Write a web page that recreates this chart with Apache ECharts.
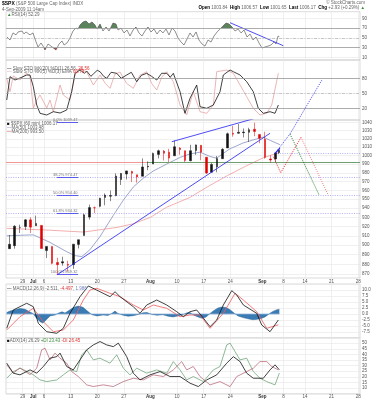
<!DOCTYPE html>
<html>
<head>
<meta charset="utf-8">
<script src="https://cdn.jsdelivr.net/npm/echarts@6/dist/echarts.min.js"></script>
<style>
html, body { margin: 0; padding: 0; background: #fff; }
#main { width: 377px; height: 400px; }
</style>
</head>
<body>
<div id="main"></div>
<script>
// x = trading-day index, 0 = 29 Jun 2009 (3 Jul and 7 Sep skipped)
const dayTicks = [0, 2, 4, 9, 14, 19, 24, 29, 34, 39, 45, 49, 53, 58, 63]
const dayLabels = ['29', 'Jul', '6', '13', '20', '27', 'Aug', '10', '17', '24', 'Sep', '8', '14', '21', '28']
const priceTicks = [870, 880, 890, 900, 910, 920, 930, 940, 950, 960, 970, 980, 990, 1000, 1010, 1020, 1030, 1040]
const rsiTicks = [10, 30, 50, 70, 90]
const stoTicks = [20, 50, 80]

// [day, open, close, low, high]
const spxBars = [
  [-2.5, 896.3, 900.9, 896.3, 910.9], [-1.5, 899.5, 920.3, 896.3, 921.4], [-0.5, 918.8, 918.9, 913.0, 922.0],
  [0.5, 919.9, 927.2, 916.2, 928.0], [1.5, 927.2, 919.3, 912.9, 930.0], [2.5, 920.8, 923.3, 920.8, 931.9],
  [3.5, 921.2, 896.4, 896.4, 921.2], [4.5, 894.3, 898.7, 886.4, 898.7], [5.5, 898.6, 881.0, 879.9, 898.6],
  [6.5, 881.9, 879.6, 869.3, 886.8], [7.5, 881.3, 882.7, 878.5, 887.9], [8.5, 880.0, 879.1, 872.8, 883.6],
  [9.5, 879.6, 901.1, 875.3, 901.1], [10.5, 900.8, 905.8, 896.5, 905.8], [11.5, 910.2, 932.7, 910.2, 934.0],
  [12.5, 930.2, 940.7, 927.5, 944.0], [13.5, 940.6, 940.4, 934.7, 941.9], [14.5, 942.1, 951.1, 941.0, 951.6],
  [15.5, 952.0, 954.6, 943.2, 956.5], [16.5, 953.4, 954.1, 947.8, 959.8], [17.5, 954.1, 976.3, 953.3, 979.4],
  [18.5, 972.2, 979.3, 966.0, 979.8], [19.5, 978.6, 982.2, 972.3, 982.5], [20.5, 981.5, 979.6, 969.4, 982.4],
  [21.5, 977.7, 975.2, 968.7, 977.8], [22.5, 976.0, 986.8, 976.0, 996.7], [23.5, 986.8, 987.5, 982.9, 993.2],
  [24.5, 990.2, 1002.6, 990.2, 1003.6], [25.5, 1001.4, 1005.7, 996.7, 1007.1], [26.5, 1005.4, 1002.7, 994.3, 1006.6],
  [27.5, 1004.1, 997.1, 992.5, 1008.0], [28.5, 999.8, 1010.5, 999.8, 1018.0], [29.5, 1008.9, 1007.1, 1001.0, 1010.1],
  [30.5, 1005.8, 994.4, 992.4, 1005.8], [31.5, 994.0, 1005.8, 993.4, 1012.8], [32.5, 1005.9, 1012.7, 1000.8, 1013.1],
  [33.5, 1012.2, 1004.1, 994.6, 1012.6], [34.5, 998.2, 979.7, 978.5, 998.2], [35.5, 980.6, 989.7, 980.6, 991.2],
  [36.5, 986.9, 996.5, 980.6, 999.6], [37.5, 996.4, 1007.4, 996.4, 1008.9], [38.5, 1009.1, 1026.1, 1009.1, 1027.6],
  [39.5, 1026.6, 1025.6, 1022.5, 1035.8], [40.5, 1026.6, 1028.0, 1026.2, 1037.8], [41.5, 1027.4, 1028.1, 1021.6, 1032.5],
  [42.5, 1027.8, 1031.0, 1016.2, 1033.3], [43.5, 1031.6, 1028.9, 1023.1, 1039.5], [44.5, 1025.2, 1020.6, 1014.6, 1025.2],
  [45.5, 1019.5, 998.0, 996.3, 1028.5], [46.5, 996.1, 994.8, 992.0, 1000.3], [47.5, 996.1, 1003.2, 992.3, 1003.4],
  [48.15, 1003.8, 1006.2, 1001.7, 1006.6]
]
const ma50 = [
  [-3.0, 910], [2.0, 911], [5.1, 903], [8.3, 893], [9.8, 889], [11.1, 888], [12.6, 895], [14.5, 909],
  [17.0, 932], [18.9, 949], [20.8, 964], [22.7, 974], [24.5, 982], [27.0, 990], [29.6, 998], [31.4, 1002],
  [33.3, 1004], [35.2, 999], [36.4, 997], [38.9, 1008], [41.4, 1015], [44.0, 1020], [45.2, 1022], [46.5, 1018], [48.3, 1013]
]
const ma200 = [
  [-3.0, 918], [5.1, 916], [11.4, 914], [17.7, 919], [20.8, 923], [24.0, 930], [27.0, 941], [31.4, 952],
  [35.0, 965], [38.5, 977], [42.0, 988], [45.0, 997], [48.3, 1004]
]
const trendLong = [[6.5, 869.3], [46.45, 1026.6]]
const trendUpper = [[28.0, 1016.5], [45.19, 1047.7]]
const lastLeg = [[47.4, 1002.7], [48.3, 1008.7]]
const projBlue = [[47.4, 1002.7], [50.2, 1025.8], [56.2, 1093.1]]
const projGreen = [[50.2, 1025.8], [55.7, 954.4]]
const projRed = [[47.07, 998.7], [48.46, 980.1], [52.27, 1021.8]]
const projPink = [[52.27, 1021.8], [57.4, 954.4]]
const fibNames = ['0.0%', '38.2%', '50.0%', '61.8%', '100.0%']
const fibLevels = [1039.47, 974.47, 954.40, 934.32, 869.32]
const supportLevel = 992
const lastLevel = 1003

const rsi14 = [
  [-2.95, 51.7], [-2.39, 45.5], [-1.82, 60], [-1.26, 56], [-0.88, 62], [-0.13, 64], [0.24, 58], [0.62, 62],
  [1.37, 56], [1.93, 60], [2.31, 47.6], [2.87, 31.2], [3.44, 39.4], [3.81, 33], [4.19, 25], [4.75, 37.3],
  [5.32, 33], [5.69, 37], [6.25, 25], [6.82, 37.3], [7.38, 43.5], [7.76, 35.3], [8.32, 39.4], [8.88, 49.6],
  [9.45, 64], [10.01, 70.2], [10.39, 68], [10.76, 76.3], [11.33, 82.5], [11.89, 84.5], [12.45, 78.4], [13.02, 82.5],
  [13.58, 76.3], [13.96, 68], [14.52, 78.4], [15.08, 64], [15.65, 72.2], [16.21, 64], [16.59, 72], [16.96, 80.4],
  [17.52, 78.4], [17.9, 66], [18.46, 70], [19.03, 60], [19.59, 66], [20.15, 53.7], [20.72, 66], [21.28, 72],
  [21.84, 60], [22.41, 53.7], [22.97, 64], [23.53, 72], [24.1, 62], [24.66, 68], [25.22, 57.8], [25.79, 66],
  [26.35, 60], [26.92, 68], [27.48, 55.8], [28.04, 70], [28.61, 64], [29.17, 49.6], [29.73, 41.4], [30.3, 35.3],
  [30.86, 47.6], [31.42, 60], [31.98, 51.7], [32.55, 62], [33.11, 45.5], [33.68, 37.3], [34.24, 33], [34.8, 45.5],
  [35.37, 41.4], [35.93, 53.7], [36.5, 62], [37.06, 68], [37.62, 74.3], [38.19, 80.4], [38.75, 78.4], [39.32, 72.2],
  [39.88, 64], [40.44, 68], [41.01, 60], [41.57, 66], [42.13, 51.7], [42.7, 57.8], [43.26, 45.5], [43.82, 51.7],
  [44.38, 39.4], [44.95, 29.1], [45.51, 31.2], [46.08, 33], [46.64, 35.3], [47.2, 41.4], [47.58, 37.3], [47.95, 53.7], [48.2, 52.3]
]
const rsiTrend = [[38.94, 81], [48.95, 33.8]]

const stoSlow = [
  [-3.0, 36.6], [-2.39, 83.2], [-1.45, 76.6], [-0.51, 80.6], [0.75, 86.6], [1.37, 86.6], [1.99, 63.2], [2.63, 26.6],
  [3.25, 10], [4.51, 6.6], [5.75, 13.2], [7.01, 10.6], [8.26, 16.6], [9.2, 53.2], [9.82, 90], [10.76, 96.6],
  [11.6, 90], [12.02, 94.6], [12.8, 84], [13.26, 88.6], [14.0, 96], [14.52, 93.2], [15.2, 84], [15.78, 80],
  [16.6, 92], [17.66, 90], [18.5, 80], [19.53, 86.6], [20.4, 92], [21.41, 73.2], [22.3, 86], [23.29, 90],
  [24.2, 84], [25.17, 76.6], [26.1, 90], [27.05, 90], [27.7, 82], [28.29, 90], [29.55, 53.2], [30.48, 10],
  [31.42, 40], [32.68, 66.6], [33.3, 23.2], [34.56, 20], [35.8, 26.6], [37.06, 53.2], [37.68, 86.6], [38.94, 96.6],
  [39.56, 93.2], [40.82, 86.6], [42.07, 73.2], [43.31, 53.2], [44.25, 20], [45.19, 10], [46.45, 13.2], [47.39, 10], [48.01, 26.6]
]
const stoFast = [
  [-3.0, 80], [-2.39, 53.2], [-1.77, 84.6], [-0.51, 76.6], [0.75, 90.6], [1.37, 83.2], [1.99, 20], [2.63, 36.6],
  [3.25, 46.6], [4.51, 20.6], [5.13, 36.6], [5.75, 12.6], [7.01, 66.6], [7.63, 46.6], [8.88, 36.6], [9.82, 86.6],
  [10.76, 100], [12.02, 92.6], [13.26, 66.6], [14.52, 86.6], [15.5, 70], [16.4, 60], [17.3, 88], [18.28, 92.6],
  [19.5, 70], [20.77, 60], [22.0, 86], [23.29, 93.2], [24.2, 70], [25.17, 56.6], [26.1, 82], [27.05, 93.2],
  [28.29, 73.2], [29.55, 26.6], [30.8, 6.6], [32.04, 53.2], [33.3, 13.2], [34.56, 10], [35.8, 26.6], [36.44, 93.2],
  [38.32, 96.6], [39.56, 90], [40.82, 66.6], [42.07, 43.2], [43.31, 20], [44.57, 6.6], [45.83, 10], [46.77, 26.6], [48.01, 90]
]

const macdLine = [
  [-3.0, -5.96], [-1.77, 1.67], [0.75, 4.46], [1.99, 3.04], [2.93, -3.88], [4.51, -7.38], [6.39, -8.04], [7.63, -5.96],
  [8.88, 0.29], [10.76, 7.21], [12.32, 11.67], [14.52, 9.29], [16.4, 7.21], [17.34, 9.29], [18.28, 7.21], [20.77, 3.04],
  [22.03, 0.29], [23.29, 3.75], [25.17, 5.83], [27.05, 3.75], [28.93, 0.96], [30.17, -1.12], [31.42, 0.96], [32.68, 1.67],
  [33.92, -1.67], [35.18, -5.29], [36.44, -2.5], [37.68, 3.75], [39.26, 9.71], [40.2, 7.92], [41.44, 3.75], [43.95, 0.29],
  [44.89, -4.58], [46.45, -7.38], [48.01, -2.5]
]
const macdSignal = [
  [-3.0, -6.67], [-0.51, -1.12], [1.99, 2.38], [3.87, -3.21], [5.75, -7.38], [7.63, -6.67], [9.5, -2.5], [11.38, 5.83],
  [12.64, 10], [13.9, 10.71], [16.4, 8.63], [18.28, 7.21], [20.77, 3.75], [22.65, 1.67], [24.53, 3.75], [27.05, 2.38],
  [29.55, -1.12], [31.42, -0.42], [33.3, -0.42], [35.18, -5.96], [37.68, 0.29], [39.88, 8.63], [41.44, 5.83], [43.95, 0.96],
  [45.83, -5.96], [48.01, -4.5]
]
const macdHist = [
  [-3.0, 0.6], [-2.39, 1.2], [-1.45, 1.8], [-0.51, 2.3], [0.43, 2.0], [1.37, 0.8], [1.93, 0.2], [2.5, -1.5],
  [3.25, -3.2], [3.81, -3.8], [4.38, -2.5], [5.13, -0.8], [6.07, -0.4], [6.63, 0.3], [7.38, 0.9], [7.95, 0.4],
  [8.51, 1.2], [9.45, 2.6], [10.39, 3.3], [11.33, 2.8], [12.26, 1.0], [13.02, -0.3], [13.96, -0.8], [15.08, -0.4],
  [16.02, -0.6], [16.77, 0.3], [17.34, 1.2], [17.9, 0.2], [18.84, -0.5], [19.78, -0.9], [20.72, -0.7], [21.66, -0.2],
  [22.6, 0.5], [23.35, 0.6], [24.29, -0.2], [25.22, -0.5], [26.35, -0.3], [27.29, -0.9], [28.23, -1.2], [29.17, -0.8],
  [30.11, -0.2], [30.86, 0.5], [31.42, 0.6], [32.17, -0.5], [32.92, -1.2], [33.68, -1.8], [34.43, -1.3], [35.18, 0.2],
  [35.93, 1.5], [36.68, 2.5], [37.43, 2.9], [38.19, 2.7], [38.94, 1.8], [39.69, 0.4], [40.44, -0.8], [41.38, -1.5],
  [42.32, -2.0], [43.26, -2.4], [44.01, -2.2], [44.76, -1.9], [45.51, -1.2], [46.08, -0.3], [46.64, 0.6], [47.2, 1.3],
  [47.77, 1.8], [48.2, 2.0]
]

const adx = [
  [-3.0, 32.2], [-1.77, 23.3], [-0.51, 21.8], [1.37, 26.2], [2.63, 23.3], [3.87, 29.2], [5.13, 36.6], [6.39, 38],
  [7.01, 41.1], [8.26, 29.2], [9.5, 26.2], [10.76, 35.1], [12.02, 44], [13.26, 48.4], [14.52, 51.4], [15.78, 48.4],
  [17.02, 46.9], [17.96, 50], [19.53, 38], [20.77, 23.3], [22.03, 17.3], [23.91, 21.8], [25.79, 24.7], [27.67, 20.3],
  [29.55, 20.3], [31.42, 14.4], [32.98, 11.4], [34.56, 17.3], [36.44, 21.8], [38.32, 32.2], [39.56, 38], [40.82, 33.6],
  [42.07, 23.3], [43.31, 18.8], [45.19, 18.8], [46.45, 26.2], [47.39, 30.7], [48.2, 26.3]
]
const plusDI = [
  [-3.0, 18.8], [-1.77, 24.7], [-0.51, 27.7], [0.75, 25], [1.99, 21.8], [3.25, 17.3], [4.51, 15.8], [6.39, 17.3],
  [7.63, 21.8], [8.88, 26.2], [10.14, 24.7], [11.08, 39.6], [12.02, 44], [13.26, 35.1], [14.52, 36.6], [16.4, 32.2],
  [17.66, 39.6], [18.9, 27.7], [20.15, 21.8], [21.41, 27.7], [23.29, 23.3], [25.17, 26.2], [27.05, 23.3], [28.29, 33.6],
  [29.55, 26.2], [30.8, 17.3], [32.04, 20.3], [33.92, 15.8], [35.8, 26.2], [37.06, 29.2], [38.32, 48.4], [38.94, 50],
  [39.88, 42.5], [40.82, 35.1], [42.07, 36.6], [43.31, 24.7], [44.57, 18.8], [45.83, 15.8], [47.39, 12.9], [48.2, 23.4]
]
const minusDI = [
  [-3.0, 30.7], [-1.77, 23.3], [-0.51, 28], [1.37, 22], [2.63, 27.7], [3.56, 44], [4.19, 45.5], [5.13, 35.1],
  [6.07, 41.1], [7.01, 36.6], [8.26, 32.2], [9.2, 24.7], [10.44, 20.3], [12.02, 12.9], [13.26, 11.4], [15.14, 12.9],
  [17.02, 11.4], [18.9, 15.8], [20.77, 18.8], [22.65, 17.3], [24.53, 21.8], [26.41, 20.3], [28.29, 26.2], [29.86, 33.6],
  [30.8, 26.2], [32.04, 29.2], [33.3, 20.3], [35.18, 12.9], [37.06, 15.8], [38.94, 11.4], [40.2, 20.3], [42.07, 24.7],
  [43.31, 27.7], [44.57, 33.6], [45.83, 33.6], [46.77, 29.2], [48.01, 26.2]
]

const font = 'Liberation Sans, Arial, sans-serif'
const xMin = -3.14
const xMax = 63.35
const fibFrom = 6.4
const fibTo = 10.4
const gridLine = { color: '#e6e6e6', width: 0.6 }
const lbl = { fontSize: 4.5, color: '#555', fontFamily: font }

const chart = echarts.init(document.getElementById('main'))

/** one x axis per panel, labels only under price and ADX */
function xAxisFor(i, showLabels) {
  return {
    type: 'value', gridIndex: i, min: xMin, max: xMax,
    axisLine: { show: false },
    axisTick: { show: false, customValues: dayTicks },
    splitLine: { show: true, lineStyle: gridLine },
    axisLabel: Object.assign({}, lbl, {
      show: showLabels, customValues: dayTicks, margin: 1,
      formatter: v => {
        const t = dayLabels[dayTicks.indexOf(v)] || ''
        return /[A-Z]/.test(t) ? '{m|' + t + '}' : t
      },
      rich: { m: { fontSize: 4.5, fontWeight: 'bold', color: '#333', fontFamily: font } }
    })
  }
}

function yAxisFor(i, opt, label) {
  return Object.assign({
    type: 'value', gridIndex: i, position: 'right',
    axisLine: { show: false },
    splitLine: { show: true, lineStyle: gridLine },
    axisLabel: Object.assign({}, lbl, { margin: 2 }, label)
  }, opt)
}

function line(data, color, x, y, extra) {
  return Object.assign({
    type: 'line', data, xAxisIndex: x, yAxisIndex: y, showSymbol: false, symbol: 'none',
    lineStyle: { color, width: 0.8 }, silent: true
  }, extra)
}

const seg = (a, b, style) => [{ coord: a, lineStyle: style }, { coord: b }]

chart.setOption({
  animation: false,
  backgroundColor: '#fff',
  textStyle: { fontFamily: font },
  grid: [
    { top: 11.7, height: 48.3 },
    { top: 60, height: 60 },
    { top: 120, height: 158 },
    { top: 284, height: 54 },
    { top: 337.5, height: 56.25 }
  ].map(g => Object.assign({ left: 6, right: 17, show: true, borderColor: '#c4c4c4', borderWidth: 0.6, outerBoundsMode: 'none' }, g)),
  xAxis: [0, 1, 2, 3, 4].map(i => xAxisFor(i, i === 2 || i === 4)),
  yAxis: [
    yAxisFor(0, { min: 4.5, max: 103.6, axisTick: { show: false, customValues: rsiTicks } }, { customValues: rsiTicks }),
    yAxisFor(1, { min: -3.4, max: 116.6, axisTick: { show: false, customValues: stoTicks } }, { customValues: stoTicks }),
    // price: series sit on the log axis, labels come from the log10 helper axis
    yAxisFor(2, { type: 'log', logBase: 10, min: 865.9, max: 1042.8, splitLine: { show: false }, axisTick: { show: false } }, { show: false }),
    yAxisFor(2, {
      min: Math.log10(865.9), max: Math.log10(1042.8),
      axisTick: { show: false, customValues: priceTicks.map(Math.log10) }
    }, { customValues: priceTicks.map(Math.log10), formatter: v => String(Math.round(Math.pow(10, v))) }),
    yAxisFor(3, { min: -10, max: 12.5, interval: 2.5, axisTick: { show: false } }, { formatter: v => v.toFixed(1), showMinLabel: false, showMaxLabel: false }),
    yAxisFor(4, { min: 5, max: 55, interval: 5, axisTick: { show: false } }, { showMinLabel: false, showMaxLabel: false })
  ],
  visualMap: [{
    show: false, type: 'piecewise', seriesIndex: 0, dimension: 1,
    pieces: [
      { gt: 70, color: '#3f6e3f' },
      { gte: 30, lte: 70, color: 'rgba(0,0,0,0)' },
      { lt: 30, color: '#b02a2a' }
    ]
  }],
  series: [
    // RSI
    line(rsi14, '#3f6e3f', 0, 0, { lineStyle: { width: 0, opacity: 0 }, areaStyle: { origin: 50, opacity: 0.85 }, z: 1 }),
    line(rsi14, '#444', 0, 0, {
      lineStyle: { color: '#444', width: 0.6 }, z: 3,
      markLine: {
        silent: true, symbol: 'none', label: { show: false },
        data: [
          { yAxis: 70, lineStyle: { color: '#9a9a9a', width: 0.8, type: 'solid' } },
          { yAxis: 30, lineStyle: { color: '#9a9a9a', width: 0.8, type: 'solid' } },
          { yAxis: 50, lineStyle: { color: '#aaaaaa', width: 0.6, type: [3, 1.5, 1, 1.5] } }
        ]
      }
    }),
    line(rsiTrend, '#2020f0', 0, 0, { z: 4 }),
    // stochastics
    line(stoSlow, '#111', 1, 1, {
      z: 4,
      markLine: {
        silent: true, symbol: 'none', label: { show: false },
        data: [
          { yAxis: 80, lineStyle: { color: '#9a9a9a', width: 0.8, type: 'solid' } },
          { yAxis: 20, lineStyle: { color: '#9a9a9a', width: 0.8, type: 'solid' } },
          { yAxis: 50, lineStyle: { color: '#aaaaaa', width: 0.6, type: [3, 1.5, 1, 1.5] } }
        ]
      }
    }),
    line(stoFast, '#e6a3a3', 1, 1, { z: 3 }),
    // price
    {
      type: 'candlestick', data: spxBars, xAxisIndex: 2, yAxisIndex: 2,
      encode: { x: 0, y: [1, 2, 3, 4] }, barWidth: 2, silent: true, z: 5,
      itemStyle: { color: '#111', color0: '#e00000', borderColor: '#111', borderColor0: '#e00000', borderWidth: 0.5 },
      markLine: {
        silent: true, symbol: 'none', label: { show: false },
        data: [
          ...fibLevels.slice(1, 4).map(v => ({ yAxis: v, lineStyle: { color: '#9d9df0', width: 0.8, type: [1, 1.4] } })),
          ...fibLevels.map((v, i) => [
            {
              coord: [fibFrom, v], name: fibNames[i] + ' ' + v.toFixed(2),
              lineStyle: { color: '#3a3ae8', width: 0.8, type: 'solid' },
              label: { show: true, position: 'insideEndTop', formatter: '{b}', fontSize: 4, color: '#777', fontFamily: font, distance: 0.5 }
            },
            { coord: [fibTo, v] }
          ]),
          seg([xMin, supportLevel], [23.3, supportLevel], { color: '#f08a8a', width: 0.9, type: 'solid' }),
          seg([23.3, supportLevel], [xMax, supportLevel], { color: '#6f9f6f', width: 1, type: 'solid' }),
          seg([47.4, lastLevel], [xMax, lastLevel], { color: '#9d9df0', width: 0.8, type: [1, 1.4] })
        ]
      }
    },
    line(ma50, '#8390c0', 2, 2, { z: 4 }),
    line(ma200, '#f09a9a', 2, 2, { z: 4 }),
    line(trendLong, '#2020f0', 2, 2, { z: 6 }),
    line(trendUpper, '#2020f0', 2, 2, { z: 6 }),
    line(lastLeg, '#2020f0', 2, 2, { z: 6, lineStyle: { color: '#2020f0', width: 1.2 } }),
    line(projBlue, '#3030f0', 2, 2, { z: 6, clip: false, lineStyle: { color: '#3030f0', width: 0.9, type: [1, 1.2] } }),
    line(projGreen, '#107010', 2, 2, { z: 6, lineStyle: { color: '#107010', width: 0.9, type: [1, 1.2] } }),
    line(projRed, '#ee1111', 2, 2, { z: 6, lineStyle: { color: '#ee1111', width: 0.9, type: [1, 1.2] } }),
    line(projPink, '#f07070', 2, 2, { z: 6, lineStyle: { color: '#f07070', width: 0.9, type: [1, 1.2] } }),
    // MACD
    line(macdHist, '#2a6496', 3, 4, { lineStyle: { color: '#2a6496', width: 0.5 }, areaStyle: { color: '#2f74b0', opacity: 0.95, origin: 0 }, z: 2 }),
    line([[xMin, 0], [48.2, 0]], '#8fb3d9', 3, 4, { z: 3 }),
    line(macdSignal, '#f05a5a', 3, 4, { z: 4 }),
    line(macdLine, '#111', 3, 4, { z: 5 }),
    // ADX
    line(plusDI, '#5e9a6a', 4, 5, { lineStyle: { color: '#5e9a6a', width: 0.7 } }),
    line(minusDI, '#b05a6a', 4, 5, { lineStyle: { color: '#b05a6a', width: 0.7 } }),
    line(adx, '#111', 4, 5, { z: 4 })
  ],
  graphic: (function () {
    const rich = {
      k: { fill: '#000', fontWeight: 'bold', fontSize: 4.5, fontFamily: font },
      d: { fill: '#111', fontSize: 4.5, fontFamily: font },
      r: { fill: '#e03030', fontSize: 4.5, fontFamily: font },
      p: { fill: '#e6a3a3', fontSize: 4.5, fontFamily: font },
      b: { fill: '#6f7fc0', fontSize: 4.5, fontFamily: font },
      g: { fill: '#3a8a3a', fontSize: 4.5, fontFamily: font },
      big: { fill: '#000', fontWeight: 'bold', fontSize: 5, fontFamily: font }
    }
    const txt = (x, y, text, extra) => ({
      type: 'text', x, y, silent: true, z: 100,
      style: Object.assign({ text, rich, fontSize: 4.5, fontFamily: font, fill: '#666', verticalAlign: 'middle' }, extra)
    })
    return [
      txt(2, 4, '{big|$SPX} (S&P 500 Large Cap Index) INDX'),
      txt(2, 9.5, '4-Sep-2009 11:14am'),
      txt(365, 2.8, '© StockCharts.com', { align: 'right' }),
      txt(365, 8, '{k|Open} 1003.84  {k|High} 1006.57  {k|Low} 1001.65  {k|Last} 1006.17  {k|Chg} +2.93 (+0.29%) {g|▲}', { align: 'right' }),
      txt(7, 15, '{g|▲}RSI(14) 52.29'),
      txt(7, 68.3, '{d|—} Slow STO %K(20) %D(1) 26.56, {r|26.56}'),
      txt(7, 72, '{p|—} Slow STO %K(5) %D(3) EMA {r|60.79}'),
      txt(7, 123.3, '{d|■} $SPX (60 min) 1006.17'),
      txt(7, 127.5, '{b|—}MA(50) 1003.48'),
      txt(7, 131.7, '{r|—}MA(200) 993.50'),
      txt(7, 288.5, '{d|—} MACD(12,26,9) -2.511, {r|-4.497}, {b|1.986}'),
      txt(7, 340.5, '{d|■}ADX(14) 26.29 {g|+DI 23.43} {r|-DI 26.45}')
    ]
  })()
})
</script>
</body>
</html>
